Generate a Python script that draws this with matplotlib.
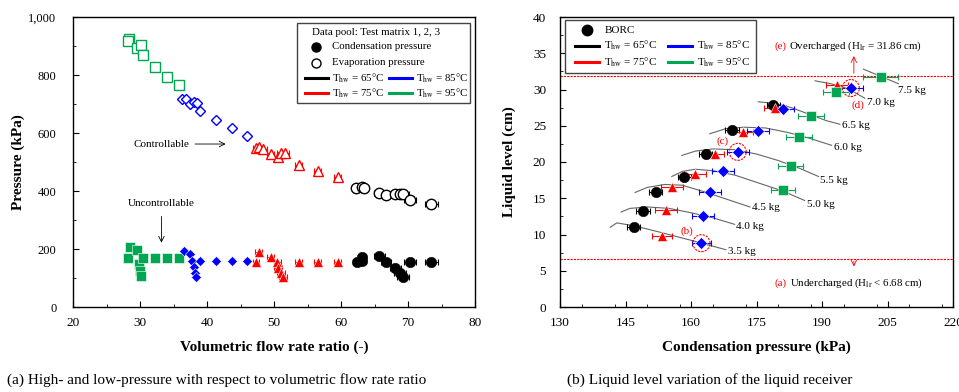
import matplotlib
matplotlib.use("Agg")
import matplotlib.pyplot as plt
from matplotlib.ticker import MultipleLocator, FuncFormatter
from matplotlib.patches import Rectangle

plt.rcParams["font.family"] = ["Liberation Serif", "DejaVu Serif"]
plt.rcParams["mathtext.fontset"] = "stix"

# -----------------------------------------------------------------------------
# Data (a): pressure vs volumetric flow rate ratio
# -----------------------------------------------------------------------------
GREEN = "#00a651"
BLUE = "#0000ff"
RED = "#ff0000"
BLACK = "#000000"

# evaporation (open markers, high pressure)
g_evap_x = [28.4, 28.2, 29.6, 30.1, 30.4, 32.3, 34.1, 35.8]
g_evap_y = [923, 918, 892, 903, 868, 826, 794, 765]
b_evap_x = [36.3, 36.8, 37.5, 38.1, 38.5, 39.0, 41.3, 43.7, 46.0]
b_evap_y = [716, 718, 700, 708, 702, 676, 645, 617, 590]
r_evap_x = [47.3, 47.8, 48.4, 49.5, 50.6, 51.1, 51.6, 53.7, 56.5, 59.5]
r_evap_y = [547, 553, 545, 528, 518, 530, 530, 490, 470, 449]
k_evap_x = [62.3, 63.1, 63.5, 65.7, 66.7, 68.0, 68.8, 69.3, 70.3, 73.5]
k_evap_y = [409, 413, 410, 394, 386, 390, 390, 388, 369, 355]

# condensation (filled markers, low pressure)
g_cond_x = [28.5, 28.2, 29.5, 29.9, 30.0, 30.2, 30.5, 32.3, 34.1, 35.8]
g_cond_y = [208, 168, 197, 148, 125, 108, 168, 168, 168, 168]
b_cond_x = [36.5, 37.5, 37.7, 38.1, 38.2, 38.4, 39.0, 41.3, 43.7, 46.0]
b_cond_y = [194, 183, 159, 137, 118, 105, 160, 160, 160, 160]
r_cond_x = [47.7, 47.3, 49.5, 50.5, 50.6, 51.0, 51.3, 53.7, 56.5, 59.5]
r_cond_y = [191, 156, 173, 156, 133, 116, 102, 156, 156, 156]
k_cond_x = [62.4, 63.1, 63.2, 65.7, 66.7, 68.1, 68.8, 69.3, 70.3, 73.5]
k_cond_y = [156, 173, 160, 176, 156, 133, 116, 105, 156, 156]

k_err = [0.6, 0.6, 0.6, 0.8, 0.8, 0.8, 0.9, 0.9, 0.9, 1.0]
r_err = [0.5, 0.5, 0.5, 0.5, 0.6, 0.6, 0.6, 0.5, 0.5, 0.5]
b_err = [0.3, 0.3, 0.3, 0.3, 0.3, 0.3, 0.3, 0.3, 0.3, 0.3]

# -----------------------------------------------------------------------------
# Data (b): liquid level vs condensation pressure
# -----------------------------------------------------------------------------
k_p = [178.8, 169.3, 163.4, 158.5, 151.9, 148.9, 146.9]
k_h = [27.9, 24.4, 21.1, 18.0, 15.8, 13.3, 11.1]
k_pe = [1.5, 1.6, 1.5, 1.5, 1.5, 1.6, 1.5]
r_p = [193.4, 179.2, 172.0, 165.5, 160.9, 155.7, 154.2, 153.3]
r_h = [30.6, 27.5, 24.2, 21.1, 18.4, 16.6, 13.4, 9.8]
r_pe = [2.5, 2.5, 2.3, 2.0, 2.5, 2.5, 2.5, 2.3]
b_p = [196.6, 181.1, 175.4, 170.7, 167.4, 164.3, 162.7, 162.4]
b_h = [30.2, 27.3, 24.3, 21.4, 18.7, 15.9, 12.5, 8.8]
b_pe = [2.8, 2.5, 2.5, 2.5, 2.5, 2.5, 2.5, 2.2]
g_p = [203.5, 193.2, 187.4, 184.7, 182.8, 181.1]
g_h = [31.7, 29.6, 26.4, 23.5, 19.4, 16.1]
g_pe = [4.0, 3.0, 3.0, 3.0, 2.8, 2.8]

charge_labels = ["3.5 kg", "4.0 kg", "4.5 kg", "5.0 kg", "5.5 kg",
                 "6.0 kg", "6.5 kg", "7.0 kg", "7.5 kg"]
curve_p = [
    [141.5, 143, 147, 153, 160, 168],
    [144, 146, 150, 155, 160, 165, 170],
    [147.2, 150, 154, 158, 163, 168, 173.5],
    [155.6, 158, 161, 165, 170, 176, 181, 186],
    [157.9, 161, 165, 170, 175, 180, 185, 189.2],
    [164.3, 168, 172, 177, 182, 187, 192.2],
    [175.4, 179, 183, 187, 191, 194.1],
    [188.4, 192, 196, 199.8],
    [199.5, 203.5, 207.5],
]
curve_h = [
    [11.0, 11.6, 11.2, 10.3, 9.2, 7.9],
    [13.1, 13.6, 13.8, 13.6, 13.0, 12.3, 11.4],
    [15.8, 16.5, 16.9, 16.8, 15.9, 14.9, 13.8],
    [18.0, 18.7, 19.0, 18.8, 18.2, 17.0, 16.0, 14.7],
    [20.9, 21.5, 21.8, 21.7, 21.1, 20.2, 19.1, 18.0],
    [23.9, 24.6, 24.8, 24.7, 24.1, 23.3, 22.3],
    [28.3, 28.1, 27.5, 26.6, 25.7, 25.2],
    [31.2, 30.8, 30.1, 28.8],
    [32.8, 31.8, 30.8],
]
label_pos = [(168.5, 7.6), (170.3, 11.1), (174.0, 13.7), (186.6, 14.2),
             (189.6, 17.5), (192.7, 22.0), (194.6, 25.1), (200.3, 28.2),
             (207.5, 29.8)]

H_over = 31.86
H_under = 6.68
circled_p = [162.4, 170.7, 196.6]
circled_h = [8.8, 21.4, 30.2]

x2_ticks = [130, 145, 160, 175, 190, 205, 220]

# -----------------------------------------------------------------------------
# Plot
# -----------------------------------------------------------------------------
fig = plt.figure(figsize=(9.59, 3.92), dpi=100)
ax1 = fig.add_axes([73 / 959, 85 / 392, 402 / 959, 290 / 392])
ax2 = fig.add_axes([560 / 959, 85 / 392, 393 / 959, 290 / 392])

ms = 6.5
def pts(ax, x, y, marker, color, filled, xerr=None, size=ms):
    if xerr is not None:
        ax.errorbar(x, y, xerr=xerr[:len(x)], fmt="none", ecolor=color,
                    elinewidth=0.8, capsize=2, capthick=0.8, zorder=2)
    ax.plot(x, y, linestyle="none", marker=marker, markersize=size,
            markerfacecolor=color if filled else "white",
            markeredgecolor=color if not filled else "white" if color != BLACK else color,
            markeredgewidth=1.0 if not filled else 0.4, zorder=3)

# (a)
pts(ax1, g_evap_x, g_evap_y, "s", GREEN, False)
pts(ax1, b_evap_x, b_evap_y, "D", BLUE, False, b_err, ms - 1)
pts(ax1, r_evap_x, r_evap_y, "^", RED, False, r_err, ms + 1)
pts(ax1, k_evap_x, k_evap_y, "o", BLACK, False, k_err, ms + 1)
pts(ax1, g_cond_x, g_cond_y, "s", GREEN, True)
pts(ax1, b_cond_x, b_cond_y, "D", BLUE, True, b_err, ms - 1)
pts(ax1, r_cond_x, r_cond_y, "^", RED, True, r_err, ms + 1)
pts(ax1, k_cond_x, k_cond_y, "o", BLACK, True, k_err, ms + 1)

ax1.set_xlim(20, 80)
ax1.set_ylim(0, 1000)
ax1.xaxis.set_major_locator(MultipleLocator(10))
ax1.xaxis.set_minor_locator(MultipleLocator(5))
ax1.yaxis.set_major_locator(MultipleLocator(200))
ax1.yaxis.set_minor_locator(MultipleLocator(100))
ax1.yaxis.set_major_formatter(FuncFormatter(lambda v, p: f"{int(v):,}"))
ax1.set_xlabel("Volumetric flow rate ratio (-)", fontsize=11, fontweight="bold")
ax1.set_ylabel("Pressure (kPa)", fontsize=11, fontweight="bold")

ax1.annotate("", xy=(43.2, 562), xytext=(37.8, 562),
             arrowprops=dict(arrowstyle="->", lw=0.6, color="black"))
ax1.text(37.3, 562, "Controllable", fontsize=8, ha="right", va="center")
ax1.annotate("", xy=(33.2, 212), xytext=(33.2, 322),
             arrowprops=dict(arrowstyle="->", lw=0.6, color="black"))
ax1.text(33.2, 340, "Uncontrollable", fontsize=8, ha="center", va="bottom")

# legend (a)
T = ax1.transAxes
ax1.add_patch(Rectangle((0.556, 0.703), 0.432, 0.276, transform=T,
                        facecolor="white", edgecolor="#444444", lw=1.0, zorder=4))
ax1.text(0.595, 0.947, "Data pool: Test matrix 1, 2, 3", transform=T,
         fontsize=7.8, va="center", zorder=5)
ax1.plot([0.604], [0.898], transform=T, marker="o", color="black", ms=6.5, zorder=5)
ax1.text(0.644, 0.898, "Condensation pressure", transform=T, fontsize=7.8, va="center", zorder=5)
ax1.plot([0.604], [0.842], transform=T, marker="o", mfc="white", mec="black", ms=6.5, zorder=5)
ax1.text(0.644, 0.842, "Evaporation pressure", transform=T, fontsize=7.8, va="center", zorder=5)
leg_lines = [(0.577, 0.789, BLACK, "65"), (0.786, 0.789, BLUE, "85"),
             (0.577, 0.737, RED, "75"), (0.786, 0.737, GREEN, "95")]
for lx, ly, c, t in leg_lines:
    ax1.plot([lx, lx + 0.058], [ly, ly], transform=T, color=c, lw=2.2, zorder=5)
    ax1.text(lx + 0.067, ly, r"T$_{\rm hw}$ = " + t + "°C", transform=T,
             fontsize=7.8, va="center", zorder=5)

# (b)
for cp, ch in zip(curve_p, curve_h):
    ax2.plot(cp, ch, color="#666666", lw=0.8, zorder=1)
for (lx, ly), lab in zip(label_pos, charge_labels):
    ax2.text(lx, ly, lab, fontsize=8, ha="left", va="center")

pts(ax2, k_p, k_h, "o", BLACK, True, k_pe, 7.5)
pts(ax2, r_p, r_h, "^", RED, True, r_pe, 7.5)
pts(ax2, b_p, b_h, "D", BLUE, True, b_pe, 6)
pts(ax2, g_p, g_h, "s", GREEN, True, g_pe, 6.5)

ax2.axhline(H_over, color=RED, lw=0.8, ls=(0, (2, 1)))
ax2.axhline(H_under, color=RED, lw=0.8, ls=(0, (2, 1)))
ax2.scatter(circled_p, circled_h, s=150, facecolors="none", edgecolors=RED,
            linewidths=0.8, linestyles=(0, (2, 1)), zorder=4)
ax2.text(167.3, 22.9, "(c)", color=RED, fontsize=8, ha="center", va="center")
ax2.text(198.3, 27.9, "(d)", color=RED, fontsize=8, ha="center", va="center")
ax2.text(159.0, 10.4, "(b)", color=RED, fontsize=8, ha="center", va="center")

ax2.annotate("", xy=(197.3, 35.0), xytext=(197.3, H_over),
             arrowprops=dict(arrowstyle="->", lw=0.6, color=RED))
ax2.annotate("", xy=(197.3, 5.2), xytext=(197.3, H_under),
             arrowprops=dict(arrowstyle="->", lw=0.6, color=RED))
ax2.text(179.2, 36.0, "(e)", color=RED, fontsize=7.8, ha="left", va="center")
ax2.text(182.4, 36.0, r"Overcharged (H$_{\rm lr}$ = 31.86 cm)", fontsize=7.8,
         ha="left", va="center")
ax2.text(179.2, 3.3, "(a)", color=RED, fontsize=7.8, ha="left", va="center")
ax2.text(182.6, 3.3, r"Undercharged (H$_{\rm lr}$ < 6.68 cm)", fontsize=7.8,
         ha="left", va="center")

ax2.set_xlim(130, 220)
ax2.set_ylim(0, 40)
ax2.set_xticks(x2_ticks)
ax2.xaxis.set_minor_locator(MultipleLocator(7.5))
ax2.yaxis.set_major_locator(MultipleLocator(5))
ax2.yaxis.set_minor_locator(MultipleLocator(2.5))
ax2.set_xlabel("Condensation pressure (kPa)", fontsize=11, fontweight="bold")
ax2.set_ylabel("Liquid level (cm)", fontsize=11, fontweight="bold")

# legend (b)
T2 = ax2.transAxes
ax2.add_patch(Rectangle((0.013, 0.808), 0.486, 0.182, transform=T2,
                        facecolor="white", edgecolor="#444444", lw=1.0, zorder=4))
ax2.plot([0.0695], [0.955], transform=T2, marker="o", color="black", ms=7.5, zorder=5)
ax2.text(0.1145, 0.955, "BORC", transform=T2, fontsize=8, va="center", zorder=5)
leg2_lines = [(0.038, 0.901, BLACK, "65"), (0.275, 0.901, BLUE, "85"),
              (0.038, 0.844, RED, "75"), (0.275, 0.844, GREEN, "95")]
for lx, ly, c, t in leg2_lines:
    ax2.plot([lx, lx + 0.062], [ly, ly], transform=T2, color=c, lw=2.2, zorder=5)
    ax2.text(lx + 0.074, ly, r"T$_{\rm hw}$ = " + t + "°C", transform=T2,
             fontsize=8, va="center", zorder=5)

for ax in (ax1, ax2):
    ax.tick_params(which="both", direction="in", labelsize=9.5)
    ax.tick_params(which="major", length=4)
    ax.tick_params(which="minor", length=2)
    ax.tick_params(axis="x", which="major", pad=7)
    ax.xaxis.set_label_coords(0.5, -40 / 290)
    ax.xaxis.label.set_va("center")
    ax.yaxis.label.set_va("center")
    for s in ax.spines.values():
        s.set_linewidth(1.0)
ax1.tick_params(axis="y", which="major", pad=12, labelsize=9)
ax2.tick_params(axis="y", which="major", pad=10)
ax1.yaxis.set_label_coords(-55 / 402, 0.5)
ax2.yaxis.set_label_coords(-51 / 393, 0.5)

fig.text(7 / 959, 1 - 380 / 392, "(a) High- and low-pressure with respect to volumetric flow rate ratio",
         fontsize=11, ha="left", va="center")
fig.text(567 / 959, 1 - 380 / 392, "(b) Liquid level variation of the liquid receiver",
         fontsize=11, ha="left", va="center")

fig.savefig("out.png", dpi=100)
